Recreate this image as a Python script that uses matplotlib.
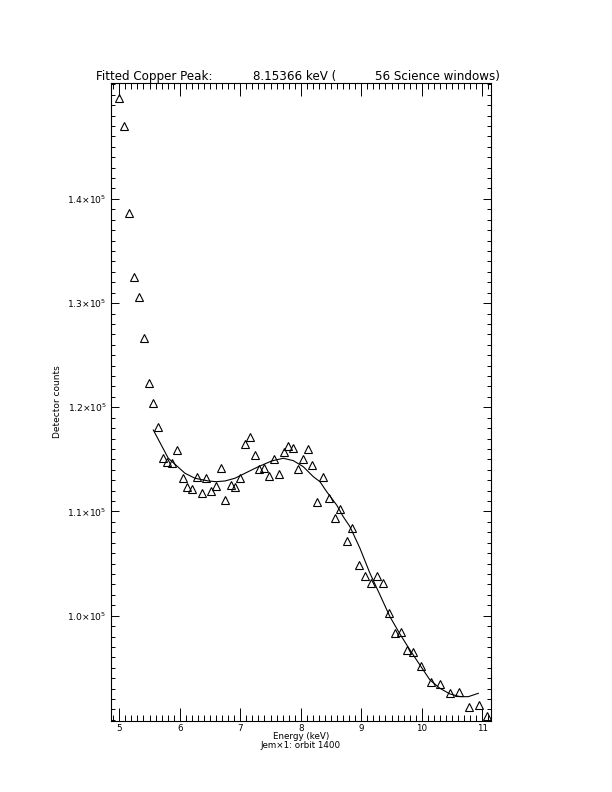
import matplotlib
matplotlib.use("Agg")
import matplotlib.pyplot as plt
from matplotlib.ticker import MultipleLocator, FixedLocator, FuncFormatter

plt.rcParams['font.family'] = ['DejaVu Sans']
plt.rcParams['mathtext.fontset'] = 'dejavusans'

# Observed spectrum (energy in keV, detector counts)
energy = [5.000, 5.083, 5.165, 5.243, 5.326, 5.403, 5.486, 5.562, 5.645, 5.717,
          5.793, 5.876, 5.959, 6.048, 6.124, 6.202, 6.284, 6.362, 6.433, 6.521,
          6.603, 6.681, 6.752, 6.841, 6.917, 6.995, 7.078, 7.160, 7.235, 7.314,
          7.397, 7.479, 7.560, 7.636, 7.717, 7.793, 7.876, 7.957, 8.033, 8.114,
          8.190, 8.273, 8.362, 8.466, 8.565, 8.656, 8.759, 8.851, 8.957, 9.061,
          9.160, 9.260, 9.359, 9.458, 9.560, 9.660, 9.760, 9.860, 9.987, 10.147,
          10.306, 10.466, 10.620, 10.785, 10.940, 11.083]
counts = [149650, 147030, 138680, 132530, 130610, 126620, 122360, 120380, 118140, 115160,
          114720, 114630, 115900, 113240, 112320, 112160, 113340, 111750, 113190, 111970,
          112480, 114150, 111100, 112540, 112320, 113240, 116450, 117180, 115450, 114080,
          114180, 113410, 115040, 113630, 115740, 116320, 116120, 114080, 115040, 116000,
          114460, 110940, 113310, 111320, 109400, 110270, 107200, 108450, 104870, 103840,
          103140, 103840, 103140, 100290, 98370, 98460, 96710, 96490, 95200, 93670,
          93450, 92550, 92710, 91270, 91430, 90370]

# Fitted model curve
fit_energy = [5.562, 5.810, 5.921, 6.086, 6.251, 6.471, 6.603, 6.747, 6.912, 7.078,
              7.298, 7.519, 7.711, 7.876, 8.041, 8.207, 8.317, 8.428, 8.593, 8.702,
              8.813, 8.978, 9.143, 9.309, 9.474, 9.639, 9.804, 9.969, 10.135, 10.300,
              10.466, 10.631, 10.769, 10.934]
fit_counts = [117820, 115110, 114530, 113670, 113190, 112930, 112860, 112930, 113190, 113670,
              114300, 114850, 115110, 114880, 114300, 113340, 112860, 111900, 110620, 109500,
              108540, 106470, 104070, 101990, 99900, 98240, 96710, 95270, 93830, 93030,
              92490, 92230, 92230, 92550]

y_major_ticks = [100000, 110000, 120000, 130000, 140000]
title_parts = ["Fitted Copper Peak:", "8.15366 keV (", "56 Science windows)"]
xlabel = "Energy (keV)"
subtitle = "Jem\u00d71: orbit 1400"
ylabel = "Detector counts"

W, H = 612, 792
fig = plt.figure(figsize=(6.12, 7.92), dpi=100)
ax = fig.add_axes([111 / W, 1 - 721 / H, (490.7 - 111) / W, (721 - 83) / H])

ax.plot(energy, counts, linestyle='none', marker='^', markersize=5.4,
        markerfacecolor='none', markeredgecolor='black', markeredgewidth=0.8,
        clip_on=False)
ax.plot(fit_energy, fit_counts, color='black', linewidth=0.8)

ax.set_xlim(4.863, 11.139)
ax.set_ylim(89894, 151123)

ax.xaxis.set_major_locator(MultipleLocator(1))
ax.xaxis.set_minor_locator(MultipleLocator(0.1))
ax.yaxis.set_major_locator(FixedLocator(y_major_ticks))
ax.yaxis.set_minor_locator(MultipleLocator(1000))

ax.xaxis.set_major_formatter(FuncFormatter(lambda v, p: f"{int(round(v))}"))
ax.yaxis.set_major_formatter(FuncFormatter(lambda v, p: f"{v/1e5:.1f}\u00d710$^5$"))

ax.tick_params(axis='x', which='major', direction='in', length=9.2, width=0.7,
               top=True, bottom=True, labelsize=6.3, pad=2)
ax.tick_params(axis='x', which='minor', direction='in', length=4.6, width=0.7,
               top=True, bottom=True)
ax.tick_params(axis='y', which='major', direction='in', length=5.5, width=0.7,
               left=True, right=True, labelsize=6.6, pad=3)
ax.tick_params(axis='y', which='minor', direction='in', length=2.7, width=0.7,
               left=True, right=True)
for s in ax.spines.values():
    s.set_linewidth(0.8)

fs_title = 8.6
fig.text(96 / W, 1 - 80 / H, title_parts[0], fontsize=fs_title, ha='left', va='baseline')
fig.text(253 / W, 1 - 80 / H, title_parts[1], fontsize=fs_title, ha='left', va='baseline')
fig.text(375 / W, 1 - 80 / H, title_parts[2], fontsize=fs_title, ha='left', va='baseline')

fig.text(300.8 / W, 1 - 739 / H, xlabel, fontsize=6.3, ha='center', va='baseline')
fig.text(300.8 / W, 1 - 748 / H, subtitle, fontsize=6.3, ha='center', va='baseline')
fig.text(57 / W, 1 - 402 / H, ylabel, fontsize=6.5, ha='center', va='center', rotation=90)

fig.savefig("out.png", dpi=100)
